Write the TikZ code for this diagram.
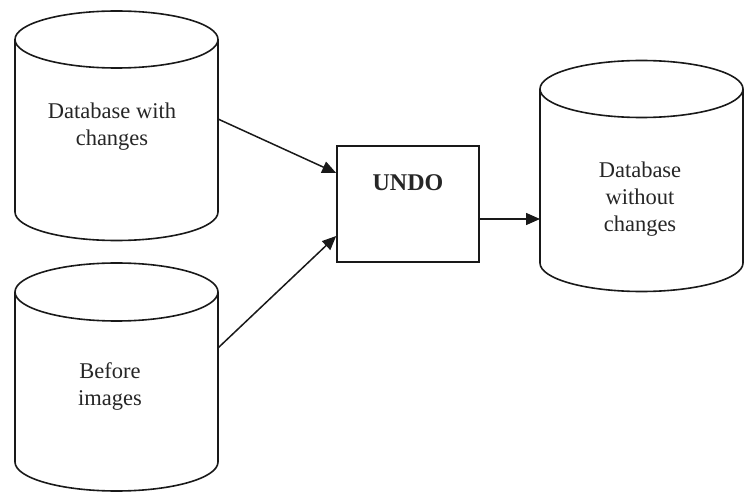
\documentclass[tikz,border=0pt]{standalone}
\usepackage{fontspec}
\setmainfont{Liberation Serif}
\usetikzlibrary{arrows.meta}
\tikzset{
  shapeline/.style={line width=1.6pt, draw=black!90},
  arr/.style={line width=1.5pt, draw=black!90, -{Triangle[length=14pt,width=12pt]}},
  lbl/.style={align=center, inner sep=0pt, font=\fontsize{22.5}{27}\selectfont, text=black!85},
  undobox/.style={shapeline, minimum width=142pt, minimum height=116pt, inner sep=0pt,
    font=\fontsize{24}{28}\selectfont\bfseries, text height=17pt, text depth=43pt, text=black!85}
}
\newcommand{\dbcyl}[5]{% x0, x1, ytop, ybot, ry
  \pgfmathsetmacro{\cx}{(#1+#2)/2}\pgfmathsetmacro{\rx}{(#2-#1)/2}
  \draw[shapeline] (#1,#3) -- (#1,#4) arc[start angle=180,end angle=360,x radius=\rx,y radius=#5] -- (#2,#3);
  \draw[shapeline] (\cx,#3) ellipse[x radius=\rx,y radius=#5];
}
\begin{document}
\begin{tikzpicture}[x=1pt,y=1pt]
\useasboundingbox (0,0) rectangle (748,496);
% cylinders
\dbcyl{15}{218}{456.5}{284}{28.5}
\dbcyl{15}{218}{204}{34}{29}
\dbcyl{540}{743}{407}{233}{28.5}
% texts
\node[lbl] (t1) at (112,369.5) {Database with\\changes};
\node[lbl] (t2) at (110,109.5) {Before\\images};
\node[lbl] (t3) at (640,297) {Database\\without\\changes};
% box
\node[undobox] (undo) at (408,292) {UNDO};
% connector points on cylinders
\coordinate (db1out) at (218,377);
\coordinate (db2out) at (218,148);
\coordinate (db3in) at (540,277);
\draw[arr] (db1out) -- ([yshift=31pt]undo.west);
\draw[arr] (db2out) -- ([yshift=-32pt]undo.west);
\draw[arr] ([yshift=-15pt]undo.east) -- (db3in);
\end{tikzpicture}
\end{document}
